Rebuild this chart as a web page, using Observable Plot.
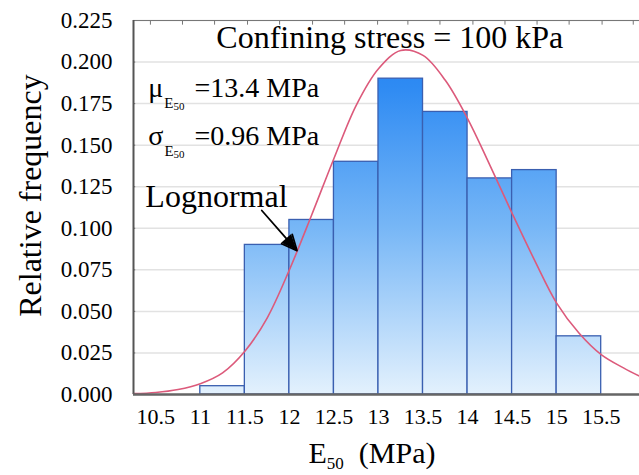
<!DOCTYPE html>
<html><head><meta charset="utf-8">
<script src="https://cdn.jsdelivr.net/npm/d3@7"></script>
<script src="https://cdn.jsdelivr.net/npm/@observablehq/plot@0.6"></script>
<style>
body{margin:0;background:#fff;overflow:hidden}
#chart svg, #chart svg text, #chart svg g { font-family: "Liberation Serif", "Times New Roman", serif !important; }
</style>
</head><body><div id="chart"></div>
<script>
// Histogram bins (MPa) and relative frequencies
const binStart = [11, 11.5, 12, 12.5, 13, 13.5, 14, 14.5, 15];
const binEnd   = [11.5, 12, 12.5, 13, 13.5, 14, 14.5, 15, 15.5];
const relFreq  = [0.005, 0.090, 0.105, 0.140, 0.190, 0.170, 0.130, 0.135, 0.035];

// Lognormal curve
const curveX = [10.25, 10.5, 10.75, 11, 11.25, 11.5, 11.75, 12, 12.25, 12.5, 12.75, 13, 13.25, 13.5, 13.75, 14, 14.25, 14.5, 14.75, 15, 15.25, 15.5, 15.75, 15.93];
const curveY = [0.0005, 0.0012, 0.003, 0.0065, 0.013, 0.026, 0.046, 0.075, 0.108, 0.142, 0.174, 0.196, 0.207, 0.204, 0.189, 0.166, 0.138, 0.109, 0.081, 0.055, 0.037, 0.024, 0.016, 0.011];

// Ticks
const xTicks = [10.5, 11, 11.5, 12, 12.5, 13, 13.5, 14, 14.5, 15, 15.5];
const yTicks = [0, 0.025, 0.05, 0.075, 0.1, 0.125, 0.15, 0.175, 0.2, 0.225];
const topTicks = [10.44, 10.80, 11.16, 11.53, 11.89, 12.26, 12.62, 12.99, 13.33, 13.69, 14.06, 14.42, 14.78, 15.14, 15.51, 15.86];

// Texts
const titleText = "Confining stress = 100 kPa";
const muText = "μE50 =13.4 MPa";
const sigmaText = "σE50 =0.96 MPa";
const curveLabel = "Lognormal";
const xLabel = "E50 (MPa)";
const yLabel = "Relative frequency";

const bars = binStart.map((s, i) => ({x1: s, x2: binEnd[i], y: relFreq[i]}));
const curve = curveX.map((x, i) => ({x, y: curveY[i]}));

const W = 639, H = 475, mL = 133, mR = 0, mT = 20, mB = 81;
const FONT = "Liberation Serif";

const gradient = () => {
  const defs = d3.create("svg:defs");
  const g = defs.append("linearGradient").attr("id", "barGrad")
    .attr("gradientUnits", "userSpaceOnUse")
    .attr("x1", 0).attr("x2", 0).attr("y1", mT).attr("y2", H - mB);
  g.append("stop").attr("offset", "0%").attr("stop-color", "#1c7ef2");
  g.append("stop").attr("offset", "18%").attr("stop-color", "#2f8bf3");
  g.append("stop").attr("offset", "55%").attr("stop-color", "#76b6f6");
  g.append("stop").attr("offset", "100%").attr("stop-color", "#e3f1fd");
  return defs.node();
};

const plot = Plot.plot({
  width: W, height: H,
  marginLeft: mL, marginRight: mR, marginTop: mT, marginBottom: mB,
  style: {fontSize: "22px", color: "#000", background: "#fff"},
  x: {domain: [10.25, 15.93]},
  y: {domain: [0, 0.225]},
  marks: [
    gradient,
    Plot.gridY(yTicks, {stroke: "#e2e2e2", strokeOpacity: 1, strokeWidth: 1.5}),
    Plot.rectY(bars, {x1: "x1", x2: "x2", y: "y", fill: "url(#barGrad)", stroke: "#3a5fb0", strokeWidth: 1.3}),
    Plot.line(curve, {x: "x", y: "y", curve: "catmull-rom", stroke: "#dc5a7b", strokeWidth: 1.6}),
    Plot.ruleY([0.225], {stroke: "#777", strokeWidth: 1.2}),
    Plot.ruleX(topTicks, {y1: 0.225, y2: 0.2222, stroke: "#777", strokeWidth: 1}),
    Plot.ruleY(yTicks, {x1: 10.25, x2: 10.275, stroke: "#777", strokeWidth: 1}),
    Plot.ruleX([10.25], {stroke: "#555", strokeWidth: 2}),
    Plot.ruleY([0], {stroke: "#666", strokeWidth: 2.5}),
    Plot.axisX({ticks: xTicks, tickSize: 0, tickPadding: 14, fontSize: 22, fontFamily: FONT, label: null, tickFormat: d => String(d)}),
    Plot.axisY({ticks: yTicks, tickSize: 0, tickPadding: 21, fontSize: 23, fontFamily: FONT, label: null, tickFormat: d3.format(".3f")}),
    Plot.text([titleText], {x: 13.127, y: 0.2085, textAnchor: "middle", lineAnchor: "bottom", fontSize: 32, fontFamily: FONT}),
    Plot.text([muText], {x: 10.416, y: 0.1787, textAnchor: "start", lineAnchor: "bottom", fontSize: 28, fontFamily: FONT}),
    Plot.text([sigmaText], {x: 10.416, y: 0.1498, textAnchor: "start", lineAnchor: "bottom", fontSize: 28, fontFamily: FONT}),
    Plot.text([curveLabel], {x: 10.383, y: 0.1127, textAnchor: "start", lineAnchor: "bottom", fontSize: 32, fontFamily: FONT}),
    Plot.arrow([{x1: 11.69, y1: 0.1107, x2: 12.085, y2: 0.0866}], {x1: "x1", y1: "y1", x2: "x2", y2: "y2", stroke: "#000", strokeWidth: 1.8, headLength: 14, headAngle: 50}),
    Plot.text([xLabel], {frameAnchor: "bottom-left", dx: 175, dy: 68, textAnchor: "start", lineAnchor: "bottom", fontSize: 30, fontFamily: FONT}),
    Plot.text([yLabel], {frameAnchor: "left", rotate: -90, dx: -103, dy: -12, textAnchor: "middle", lineAnchor: "middle", fontSize: 32, fontFamily: FONT})
  ]
});

// Rich text: subscripts
const NS = "http://www.w3.org/2000/svg";
function rich(el, segs) {
  el.textContent = "";
  for (const s of segs) {
    const ts = document.createElementNS(NS, "tspan");
    ts.textContent = s.t;
    if (s.size) ts.setAttribute("font-size", s.size);
    if (s.dy) ts.setAttribute("dy", s.dy);
    if (s.dx) ts.setAttribute("dx", s.dx);
    el.appendChild(ts);
  }
}
plot.querySelectorAll("text").forEach(el => {
  const t = el.textContent;
  if (t === muText) rich(el, [{t: "μ"}, {t: "E", size: 15, dy: 11, dx: 1}, {t: "50", size: 11, dy: 2}, {t: " =13.4 MPa", dy: -13, dx: 3}]);
  else if (t === sigmaText) rich(el, [{t: "σ"}, {t: "E", size: 15, dy: 11, dx: 1}, {t: "50", size: 11, dy: 2}, {t: " =0.96 MPa", dy: -13, dx: 3}]);
  else if (t === xLabel) rich(el, [{t: "E"}, {t: "50", size: 17, dy: 6}, {t: "  (MPa)", dy: -6}]);
});

// Arrowhead: solid filled triangle at the tip
(() => {
  const xs = plot.scale("x"), ys = plot.scale("y");
  const ax = xs.apply(11.69), ay = ys.apply(0.1107), bx = xs.apply(12.085), by = ys.apply(0.0866);
  const ang = Math.atan2(by - ay, bx - ax), L = 17, w = 0.4;
  const p1 = [bx - L * Math.cos(ang - w), by - L * Math.sin(ang - w)];
  const p2 = [bx - L * Math.cos(ang + w), by - L * Math.sin(ang + w)];
  const tri = document.createElementNS(NS, "path");
  tri.setAttribute("d", `M${bx},${by}L${p1[0]},${p1[1]}L${p2[0]},${p2[1]}Z`);
  tri.setAttribute("fill", "#000");
  plot.appendChild(tri);
})();
document.getElementById("chart").appendChild(plot);
</script>
</body></html>
